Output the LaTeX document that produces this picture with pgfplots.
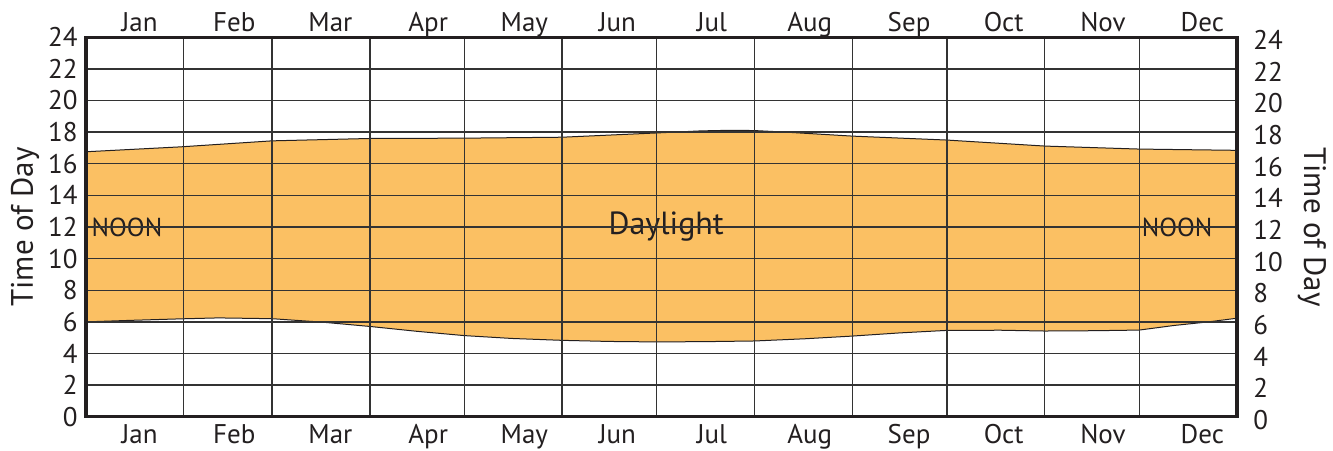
\documentclass[border=0pt]{standalone}
\usepackage{fontspec}
\setmainfont{PT Sans}
\usepackage{pgfplots}
\pgfplotsset{compat=1.18}
\definecolor{dayfill}{RGB}{251,192,99}
\definecolor{ink}{RGB}{35,31,32}
\pgfplotstableread{
d h
0 16.76
30 17.07
59 17.45
90 17.60
120 17.62
151 17.68
181 17.95
195 18.08
205 18.12
212 18.10
222 18.00
243 17.75
273 17.50
304 17.12
334 16.93
365 16.85
}\sunset
\pgfplotstableread{
d h
0 6.00
15 6.10
30 6.19
42 6.25
59 6.20
75 5.98
90 5.71
105 5.40
120 5.13
135 4.95
151 4.83
166 4.76
181 4.73
197 4.75
212 4.79
228 4.93
243 5.10
258 5.30
273 5.46
290 5.47
304 5.42
320 5.44
334 5.48
345 5.77
356 6.00
365 6.23
}\sunrise
\begin{document}
\begin{tikzpicture}
\pgfplotsset{
  common/.style={
    at={(0,0)}, anchor=south west,
    scale only axis, width=575.5pt, height=189.7pt,
    xmin=0, xmax=365, ymin=0, ymax=24,
    ytick={0,2,...,24},
    xtick={17,47,77.5,108.5,139,168.5,198.5,229.5,261,291,322.5,354},
    xticklabels={Jan,Feb,Mar,Apr,May,Jun,Jul,Aug,Sep,Oct,Nov,Dec},
    major tick length=0pt, minor tick length=0pt,
    axis line style={line width=1.7pt, ink},
    tick label style={font=\fontsize{13.5}{15}\selectfont, text=ink},
    /pgf/number format/assume math mode=true,
  }
}
\begin{axis}[common,
  axis on top,
  minor xtick={0,31,59,90,120,151,181,212,243,273,304,334,365},
  xminorgrids=true, ymajorgrids=true, xmajorgrids=false,
  grid style={line width=0.7pt, black!80},
  minor grid style={line width=0.7pt, black!80},
  xticklabel style={anchor=north, text height=10pt, text depth=0pt, inner sep=0pt, yshift=-3.3pt},
  yticklabel style={inner sep=2pt, xshift=-2pt},
  ylabel={Time of Day},
  every axis y label/.style={at={(rel axis cs:0,0.5)}, xshift=-30.5pt, rotate=90, anchor=center, font=\fontsize{15.5}{18}\selectfont, text=ink},
]
\addplot[fill=dayfill, draw=none] table[x=d,y=h] {\sunset} \closedcycle;
\addplot[fill=white, draw=none] table[x=d,y=h] {\sunrise} \closedcycle;
\addplot[ink, line width=0.5pt] table[x=d,y=h] {\sunset};
\addplot[ink, line width=0.5pt] table[x=d,y=h] {\sunrise};
\node[font=\fontsize{13}{15}\selectfont, text=ink] at (axis cs:13,12) {NOON};
\node[font=\fontsize{13}{15}\selectfont, text=ink] at (axis cs:346,12) {NOON};
\node[font=\fontsize{16}{18}\selectfont, text=ink] at (axis cs:184,12) {Daylight};
\end{axis}
\begin{axis}[common,
  xticklabel pos=upper, yticklabel pos=right,
  xticklabel style={anchor=south, text height=10pt, text depth=0pt, inner sep=0pt, yshift=2.5pt},
  yticklabel style={inner sep=2pt, xshift=6pt, yshift=-1.5pt},
  ylabel={Time of Day},
  every axis y label/.style={at={(rel axis cs:1,0.5)}, xshift=37.5pt, rotate=-90, anchor=center, font=\fontsize{15.5}{18}\selectfont, text=ink},
]
\addplot[draw=none] coordinates {(0,0)};
\end{axis}
\pgfresetboundingbox
\path (-43pt,-16.65pt) rectangle (623.5pt,208.35pt);
\end{tikzpicture}
\end{document}
